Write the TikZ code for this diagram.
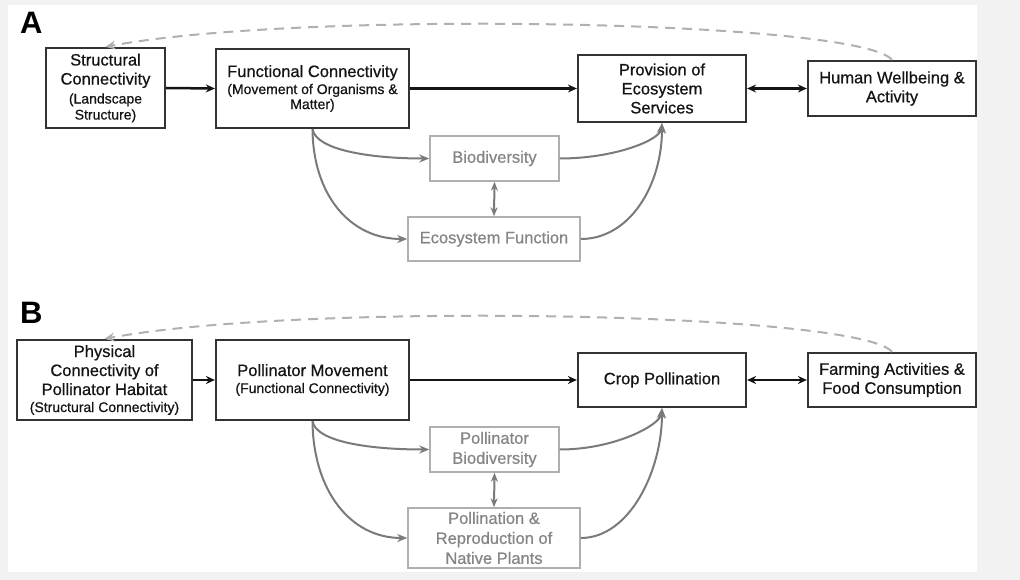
\documentclass[tikz,border=0pt]{standalone}
\usepackage{fontspec}
\setmainfont{Liberation Sans}[FakeBold=0.6]
\newfontfamily\panelfont{Liberation Sans Bold}
\usetikzlibrary{arrows.meta}
\definecolor{txt}{HTML}{141414}
\definecolor{bd}{HTML}{333333}
\definecolor{gtxt}{HTML}{858585}
\definecolor{gbd}{HTML}{AFAFAF}
\definecolor{gline}{HTML}{7A7A7A}
\definecolor{dline}{HTML}{B0B0B0}
\definecolor{bgc}{HTML}{F2F2F2}
\newcommand\smf{\fontsize{14}{16.5}\selectfont}
\tikzset{
  mainbox/.style={draw=bd, line width=2.2pt, text=txt, align=center, inner sep=0pt,
    font=\fontsize{16.5}{19}\selectfont},
  graybox/.style={draw=gbd, line width=1.5pt, text=gtxt, align=center, inner sep=0pt,
    font=\fontsize{16.5}{20}\selectfont},
  blk/.style={line width=2.5pt, draw=txt, -{Stealth[length=9pt,width=8pt]}},
  blkdbl/.style={line width=2.5pt, draw=txt, {Stealth[length=9pt,width=8pt]}-{Stealth[length=9pt,width=8pt]}},
  gcurve/.style={line width=2pt, draw=gline, -{Stealth[length=10pt,width=8pt]}},
  gdbl/.style={line width=2pt, draw=gline, {Stealth[length=9pt,width=7pt]}-{Stealth[length=9pt,width=7pt]}},
  dashback/.style={line width=2pt, draw=dline, dash pattern=on 10pt off 7pt, -{Stealth[length=10pt,width=9pt,open]}},
  panel/.style={font=\panelfont\fontsize{31}{31}\selectfont, text=black, inner sep=0pt, anchor=north west}
}
\begin{document}
\begin{tikzpicture}[x=1pt,y=-1pt]
\fill[bgc] (0,0) rectangle (1020,580);
\fill[white] (8,5) rectangle (977,572);
\useasboundingbox (0,0) rectangle (1020,580);

% Panel A
\node[panel] (la) at (20,12) {A};
\node[mainbox, minimum width=119pt, minimum height=80pt] (sc) at (105.5,88) {Structural\\Connectivity\\\smf(Landscape\\[-3pt]\smf Structure)};
\node[mainbox, minimum width=193pt, minimum height=79pt] (fc) at (312.5,88.5) {Functional Connectivity\\[-2pt]\smf(Movement of Organisms \&\\[-4pt]\smf Matter)};
\node[mainbox, minimum width=168pt, minimum height=67pt] (pe) at (662,88.5) {Provision of\\Ecosystem\\Services};
\node[mainbox, minimum width=168pt, minimum height=55pt] (hw) at (892,88.5) {Human Wellbeing \&\\Activity};
\node[graybox, minimum width=129pt, minimum height=45pt] (bd) at (494.5,158.5) {Biodiversity};
\node[graybox, minimum width=172pt, minimum height=44pt] (ef) at (494,239) {Ecosystem Function};

\draw[blk] (sc.east) -- (fc.west);
\draw[blk] (fc.east) -- (pe.west);
\draw[blkdbl] (pe.east) -- (hw.west);
\draw[gdbl] (bd.south) -- (ef.north);
\draw[gcurve] (fc.south) .. controls (316,150) and (370,158.5) .. (bd.west);
\draw[gcurve] (fc.south) .. controls (313,195) and (350,239) .. (ef.west);
\draw[gcurve] (bd.east) .. controls (615,158.5) and (660,140) .. (pe.south);
\draw[gcurve] (ef.east) .. controls (630,239) and (662,185) .. (pe.south);
\draw[dashback] (hw.north) .. controls (860,20) and (300,10) .. (sc.north);

% Panel B
\node[panel] (lb) at (20,302) {B};
\node[mainbox, minimum width=175pt, minimum height=80pt] (ph) at (104.5,380) {Physical\\Connectivity of\\Pollinator Habitat\\[-2pt]\smf(Structural Connectivity)};
\node[mainbox, minimum width=193pt, minimum height=80pt] (pm) at (312.5,380) {Pollinator Movement\\[-2pt]\smf(Functional Connectivity)};
\node[mainbox, minimum width=168pt, minimum height=54pt] (cp) at (662,380) {Crop Pollination};
\node[mainbox, minimum width=168pt, minimum height=54pt] (fa) at (892,380) {Farming Activities \&\\Food Consumption};
\node[graybox, minimum width=129pt, minimum height=45pt] (pb) at (494.5,449.5) {Pollinator\\Biodiversity};
\node[graybox, minimum width=172pt, minimum height=60pt] (pr) at (494,538) {Pollination \&\\Reproduction of\\Native Plants};

\draw[blk] (ph.east) -- (pm.west);
\draw[blk] (pm.east) -- (cp.west);
\draw[blkdbl] (cp.east) -- (fa.west);
\draw[gdbl] (pb.south) -- (pr.north);
\draw[gcurve] (pm.south) .. controls (316,442) and (370,449.5) .. (pb.west);
\draw[gcurve] (pm.south) .. controls (313,490) and (350,538) .. (pr.west);
\draw[gcurve] (pb.east) .. controls (615,449.5) and (660,425) .. (cp.south);
\draw[gcurve] (pr.east) .. controls (630,538) and (662,470) .. (cp.south);
\draw[dashback] (fa.north) .. controls (860,312) and (300,302) .. (ph.north);
\end{tikzpicture}
\end{document}
